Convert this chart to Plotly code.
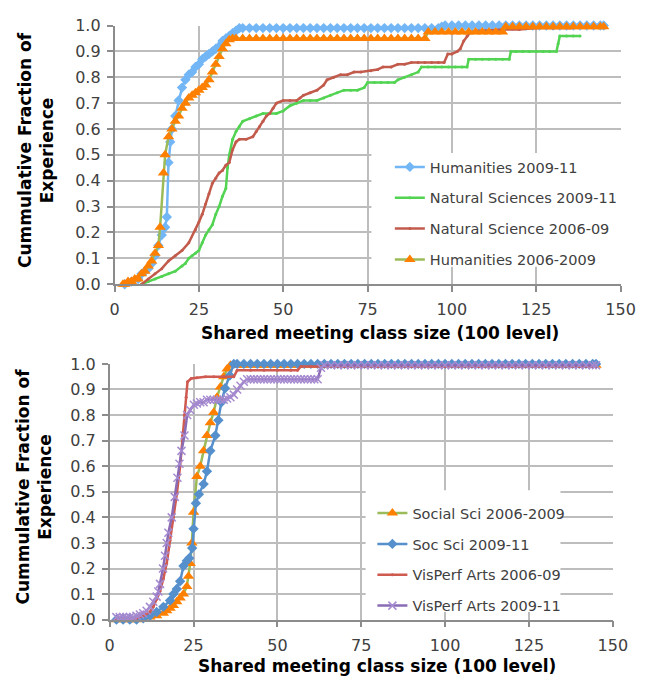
import plotly.graph_objects as go

# ---------------- Top chart data ----------------
HUM09_X = [3, 5, 7, 8, 9, 10, 11, 12, 13, 14, 15, 15.5, 16, 16.5, 17, 18, 19, 20, 21, 22, 23, 24, 25, 26, 27, 28, 29, 30, 31, 32, 33, 34, 35, 36, 37,
           38, 40, 42, 44, 46, 48, 50, 52, 54, 56, 58, 60, 62, 64, 66, 68, 70, 72, 74, 76, 78, 80, 82, 84, 86, 88, 90, 92, 94, 96,
           97,
           98, 100, 102, 104, 106, 108, 110, 112, 114, 116, 118, 120, 122, 124, 126, 128, 130, 132, 134, 136, 138, 140, 142, 144,
           145]
HUM09_Y = [0.0, 0.01, 0.02, 0.04, 0.05, 0.06, 0.08, 0.11, 0.15, 0.19, 0.22, 0.26, 0.47, 0.55, 0.60, 0.65, 0.71, 0.76, 0.79, 0.81, 0.82, 0.84, 0.85, 0.87, 0.88, 0.89, 0.90, 0.91, 0.92, 0.94, 0.95, 0.96, 0.97, 0.98, 0.99,
           0.99, 0.99, 0.99, 0.99, 0.99, 0.99, 0.99, 0.99, 0.99, 0.99, 0.99, 0.99, 0.99, 0.99, 0.99, 0.99, 0.99, 0.99, 0.99, 0.99, 0.99, 0.99, 0.99, 0.99, 0.99, 0.99, 0.99, 0.99, 0.99, 0.99,
           0.995,
           1.0, 1.0, 1.0, 1.0, 1.0, 1.0, 1.0, 1.0, 1.0, 1.0, 1.0, 1.0, 1.0, 1.0, 1.0, 1.0, 1.0, 1.0, 1.0, 1.0, 1.0, 1.0, 1.0, 1.0,
           1.0]

NAT09_X = [8, 10, 12, 14, 16, 18, 20, 21, 22, 23, 24, 25, 26, 27, 28, 29, 30, 31, 32, 33, 33.5, 34, 35, 36, 37, 38, 40, 42, 44, 46,
           48, 50, 52, 54, 56, 58, 60, 62, 64, 66, 68, 70, 72, 74, 75, 77, 79, 81, 83, 84, 86, 88, 90, 91, 93, 95, 97, 99, 101, 103,
           104.5, 105, 107, 109, 111, 113, 115, 117, 117.5, 119, 121, 123, 125, 127, 129, 131, 131.5, 132, 134, 136, 138]
NAT09_Y = [0.0, 0.01, 0.02, 0.03, 0.04, 0.05, 0.07, 0.08, 0.10, 0.11, 0.12, 0.13, 0.16, 0.19, 0.21, 0.23, 0.27, 0.30, 0.34, 0.37, 0.45, 0.50, 0.56, 0.59, 0.61, 0.63, 0.64, 0.65, 0.66, 0.66,
           0.66, 0.67, 0.69, 0.70, 0.71, 0.71, 0.71, 0.72, 0.73, 0.74, 0.75, 0.75, 0.75, 0.76, 0.78, 0.78, 0.78, 0.78, 0.78, 0.79, 0.80, 0.81, 0.82, 0.84, 0.84, 0.84, 0.84, 0.84, 0.84, 0.84,
           0.84, 0.87, 0.87, 0.87, 0.87, 0.87, 0.87, 0.87, 0.90, 0.90, 0.90, 0.90, 0.90, 0.90, 0.90, 0.90, 0.93, 0.96, 0.96, 0.96, 0.96]

NAT06_X = [8, 10, 12, 14, 16, 18, 20, 22, 24, 25, 26, 27, 28, 29, 30, 31, 32, 33, 34, 35, 36, 37, 39, 41, 42, 43, 44, 45, 46, 47,
           48, 50, 52, 54, 55, 56, 58, 60, 62, 63, 65, 67, 69, 71, 73, 76, 78, 79.6, 82, 84, 86, 88, 90, 92, 94, 96, 97.7, 98.8, 100, 101.6,
           102.5, 103.5, 104.5, 105.5, 107, 110, 115, 120, 125, 130, 135, 140, 145]
NAT06_Y = [0.0, 0.02, 0.04, 0.06, 0.09, 0.11, 0.13, 0.16, 0.21, 0.24, 0.27, 0.31, 0.35, 0.39, 0.41, 0.43, 0.44, 0.46, 0.47, 0.52, 0.55, 0.56, 0.56, 0.57, 0.59, 0.61, 0.63, 0.65, 0.66, 0.68,
           0.70, 0.71, 0.71, 0.71, 0.72, 0.73, 0.74, 0.75, 0.77, 0.79, 0.80, 0.81, 0.81, 0.82, 0.82, 0.825, 0.83, 0.84, 0.84, 0.85, 0.85, 0.857, 0.857, 0.857, 0.857, 0.857, 0.857, 0.89, 0.89, 0.90,
           0.91, 0.94, 0.96, 0.975, 0.98, 0.98, 0.985, 0.985, 0.99, 0.99, 0.99, 0.995, 1.0]

HUM06_X = [2.5, 3, 4, 5, 6, 7, 8, 9, 10, 11, 12, 13, 13.5, 14.5, 15, 16, 17, 18, 19, 20, 21, 22, 23, 24, 25, 26, 27, 28, 29, 30, 31, 32, 33, 34, 35,
           36, 38, 40, 42, 44, 46, 48, 50, 52, 54, 56, 58, 60, 62, 64, 66, 68, 70, 72, 74, 76, 78, 80, 82, 84, 86, 88, 90, 92,
           93, 95, 97, 99, 101, 103, 105, 107, 109, 111, 113, 115,
           116, 118, 120, 122, 124, 126, 128, 130, 132, 134, 136, 138, 140, 142, 144,
           145]
HUM06_Y = [0.0, 0.0, 0.01, 0.01, 0.02, 0.02, 0.04, 0.05, 0.07, 0.09, 0.12, 0.15, 0.22, 0.43, 0.50, 0.57, 0.60, 0.63, 0.65, 0.68, 0.70, 0.72, 0.73, 0.74, 0.75, 0.76, 0.77, 0.79, 0.82, 0.85, 0.88, 0.91, 0.93, 0.945, 0.95,
           0.95, 0.95, 0.95, 0.95, 0.95, 0.95, 0.95, 0.95, 0.95, 0.95, 0.95, 0.95, 0.95, 0.95, 0.95, 0.95, 0.95, 0.95, 0.95, 0.95, 0.95, 0.95, 0.95, 0.95, 0.95, 0.95, 0.95, 0.95, 0.95,
           0.975, 0.975, 0.975, 0.975, 0.975, 0.975, 0.975, 0.975, 0.975, 0.975, 0.975, 0.975,
           0.995, 0.995, 0.995, 0.995, 0.995, 0.995, 0.995, 0.995, 0.995, 0.995, 0.995, 0.995, 0.995, 0.995, 0.995,
           0.995]

# ---------------- Bottom chart data ----------------
SOC06_X = [2, 4, 6, 8, 10, 12, 14, 16, 17, 18, 19, 20, 21, 22, 23, 23.5, 24, 24.5, 25, 26, 27, 28, 29, 30, 31, 32, 33, 34, 35, 36,
           38, 40, 42, 44, 46, 48, 50, 52, 54, 56, 58, 60, 62, 64, 66, 68, 70, 72, 74, 76, 78, 80, 82, 84, 86, 88, 90,
           92, 94, 96, 98, 100, 102, 104, 106, 108, 110, 112, 114, 116, 118, 120, 122, 124, 126, 128, 130, 132, 134, 136, 138, 140, 142, 144,
           145]
SOC06_Y = [0.0, 0.0, 0.0, 0.0, 0.005, 0.01, 0.015, 0.025, 0.035, 0.045, 0.055, 0.07, 0.085, 0.10, 0.13, 0.17, 0.22, 0.30, 0.42, 0.56, 0.60, 0.66, 0.72, 0.77, 0.81, 0.87, 0.91, 0.95, 0.98, 0.995,
           0.995, 0.995, 0.995, 0.995, 0.995, 0.995, 0.995, 0.995, 0.995, 0.995, 0.995, 0.995, 0.995, 0.995, 0.995, 0.995, 0.995, 0.995, 0.995, 0.995, 0.995, 0.995, 0.995, 0.995, 0.995, 0.995, 0.995,
           0.995, 0.995, 0.995, 0.995, 0.995, 0.995, 0.995, 0.995, 0.995, 0.995, 0.995, 0.995, 0.995, 0.995, 0.995, 0.995, 0.995, 0.995, 0.995, 0.995, 0.995, 0.995, 0.995, 0.995, 0.995, 0.995, 0.995,
           0.995]

SOC09_X = [2, 4, 6, 8, 10, 12, 14, 16, 18, 19, 20, 21, 22, 23, 23.7, 24.6, 25, 25.7, 26.6, 28, 29, 30, 31.5, 32.4, 33.3, 34.4, 35.8, 37,
           38, 40, 42, 44, 46, 48, 50, 52, 54, 56, 58, 60, 62, 64, 66, 68, 70, 72, 74, 76, 78, 80, 82, 84, 86, 88, 90,
           92, 94, 96, 98, 100, 102, 104, 106, 108, 110, 112, 114, 116, 118, 120, 122, 124, 126, 128, 130, 132, 134, 136, 138, 140, 142, 144,
           145]
SOC09_Y = [0.0, 0.0, 0.0, 0.0, 0.005, 0.015, 0.03, 0.05, 0.075, 0.10, 0.12, 0.15, 0.21, 0.23, 0.24, 0.28, 0.355, 0.455, 0.49, 0.53, 0.58, 0.66, 0.72, 0.78, 0.85, 0.905, 0.955, 1.0,
           1.0, 1.0, 1.0, 1.0, 1.0, 1.0, 1.0, 1.0, 1.0, 1.0, 1.0, 1.0, 1.0, 1.0, 1.0, 1.0, 1.0, 1.0, 1.0, 1.0, 1.0, 1.0, 1.0, 1.0, 1.0, 1.0, 1.0,
           1.0, 1.0, 1.0, 1.0, 1.0, 1.0, 1.0, 1.0, 1.0, 1.0, 1.0, 1.0, 1.0, 1.0, 1.0, 1.0, 1.0, 1.0, 1.0, 1.0, 1.0, 1.0, 1.0, 1.0, 1.0, 1.0, 1.0,
           1.0]

VIS06_X = [2, 4, 6, 8, 10, 12, 13, 14, 15, 16, 17, 18, 19, 20, 21, 21.7, 22.3, 22.8, 23.2, 24.3, 26, 28.6, 31, 34, 37,
           38, 42, 46, 50, 54, 56, 57, 60, 70, 80, 90, 100, 110, 120, 130, 140, 145]
VIS06_Y = [0.0, 0.0, 0.0, 0.005, 0.015, 0.03, 0.05, 0.08, 0.11, 0.16, 0.22, 0.31, 0.40, 0.49, 0.60, 0.72, 0.80, 0.87, 0.93, 0.943, 0.946, 0.95, 0.95, 0.95, 0.95,
           0.975, 0.975, 0.975, 0.975, 0.975, 0.975, 0.99, 0.99, 0.99, 0.99, 0.99, 0.99, 0.99, 0.99, 0.99, 0.99, 0.99]

VIS09_X = [2, 3, 4, 5, 6, 7, 8, 9, 10, 11, 12, 13, 14,
           14.5, 15, 15.9, 16.5, 17, 17.5, 18.5, 19.4, 20.2, 20.8, 21.4, 22.3, 23.1, 24, 25.1,
           26, 27, 28, 29, 30, 31, 32, 33, 34, 35, 36, 37, 38, 39, 40, 41,
           42, 43, 44, 45, 46, 47, 48, 49, 50, 51, 52, 53, 54, 55, 56, 57, 58, 59, 60, 61, 62,
           63,
           64, 66, 68, 70, 72, 74, 76, 78, 80, 82, 84, 86, 88, 90, 92, 94, 96, 98, 100, 102, 104,
           106, 108, 110, 112, 114, 116, 118, 120, 122, 124, 126, 128, 130, 132, 134, 136, 138, 140, 142, 144,
           145]
VIS09_Y = [0.01, 0.01, 0.01, 0.01, 0.01, 0.01, 0.015, 0.02, 0.025, 0.035, 0.05, 0.07, 0.09,
           0.11, 0.14, 0.20, 0.25, 0.30, 0.34, 0.40, 0.48, 0.555, 0.61, 0.66, 0.72, 0.80, 0.82, 0.84,
           0.845, 0.85, 0.85, 0.86, 0.86, 0.86, 0.86, 0.86, 0.86, 0.865, 0.87, 0.88, 0.90, 0.915, 0.93, 0.94,
           0.94, 0.94, 0.94, 0.94, 0.94, 0.94, 0.94, 0.94, 0.94, 0.94, 0.94, 0.94, 0.94, 0.94, 0.94, 0.94, 0.94, 0.94, 0.94, 0.94, 0.94,
           0.985,
           0.995, 0.995, 0.995, 0.995, 0.995, 0.995, 0.995, 0.995, 0.995, 0.995, 0.995, 0.995, 0.995, 0.995, 0.995, 0.995, 0.995, 0.995, 0.995, 0.995, 0.995,
           0.995, 0.995, 0.995, 0.995, 0.995, 0.995, 0.995, 0.995, 0.995, 0.995, 0.995, 0.995, 0.995, 0.995, 0.995, 0.995, 0.995, 0.995, 0.995, 0.995,
           0.995]

for a, b in [(HUM09_X, HUM09_Y), (NAT09_X, NAT09_Y), (NAT06_X, NAT06_Y), (HUM06_X, HUM06_Y),
             (SOC06_X, SOC06_Y), (SOC09_X, SOC09_Y), (VIS06_X, VIS06_Y), (VIS09_X, VIS09_Y)]:
    assert len(a) == len(b), (len(a), len(b))

X_TICKS = [0, 25, 50, 75, 100, 125, 150]
Y_TICKS = [0.0, 0.1, 0.2, 0.3, 0.4, 0.5, 0.6, 0.7, 0.8, 0.9, 1.0]
X_TITLE = "Shared meeting class size (100 level)"
Y_TITLE = "Cummulative Fraction of<br>Experience"

FONT = "DejaVu Sans"
W, H = 653, 688
ORANGE = "#FF8000"
OLIVE = "#9BBB59"

fig = go.Figure()


def add(x, y, name, xa, ya, leg, lcolor, msym, msize, mcolor, mline=0, mlcolor=None):
    fig.add_trace(go.Scatter(
        x=x, y=y, name=name, mode="lines+markers", xaxis=xa, yaxis=ya,
        legend=leg, legendgroup=name, cliponaxis=False,
        line=dict(color=lcolor, width=2.5),
        marker=dict(symbol=msym, size=msize, color=mcolor,
                    line=dict(width=mline, color=mlcolor or mcolor)),
    ))


# top chart
add(HUM09_X, HUM09_Y, "Humanities 2009-11", "x", "y", "legend", "#72B6F6", "diamond", 8, "#72B6F6")
add(NAT09_X, NAT09_Y, "Natural Sciences 2009-11", "x", "y", "legend", "#52D452", "circle", 3, "#52D452")
add(NAT06_X, NAT06_Y, "Natural Science 2006-09", "x", "y", "legend", "#C25B4C", "circle", 3, "#C25B4C")
add(HUM06_X, HUM06_Y, "Humanities 2006-2009", "x", "y", "legend", OLIVE, "triangle-up", 10, ORANGE)
# bottom chart
add(SOC06_X, SOC06_Y, "Social Sci 2006-2009", "x2", "y2", "legend2", OLIVE, "triangle-up", 10, ORANGE)
add(SOC09_X, SOC09_Y, "Soc Sci 2009-11", "x2", "y2", "legend2", "#5590CC", "diamond", 8, "#5590CC")
add(VIS06_X, VIS06_Y, "VisPerf Arts 2006-09", "x2", "y2", "legend2", "#CF5A50", "circle", 3, "#CF5A50")
add(VIS09_X, VIS09_Y, "VisPerf Arts 2009-11", "x2", "y2", "legend2", "#8A6BB5", "x-thin", 8, "#A68BD0", 1.5, "#A68BD0")

tickfont = dict(family=FONT, size=16, color="#404040")
common_x = dict(range=[0, 150], tickvals=X_TICKS, showgrid=True, gridcolor="#BDBDBD", gridwidth=1.5,
                showline=True, linecolor="#8C8C8C", linewidth=1.5, ticks="outside", ticklen=6,
                tickcolor="#8C8C8C", tickwidth=1.5, zeroline=False, tickfont=tickfont,
                ticklabelstandoff=4, fixedrange=True)
common_y = dict(range=[0, 1], tickvals=Y_TICKS, tickformat=".1f", showgrid=True, gridcolor="#BDBDBD",
                gridwidth=1.5, showline=True, linecolor="#8C8C8C", linewidth=1.5, ticks="outside",
                ticklen=6, tickcolor="#8C8C8C", tickwidth=1.5, zeroline=False, tickfont=tickfont,
                ticklabelstandoff=3, fixedrange=True)

legfont = dict(family=FONT, size=14.5, color="#404040")

fig.update_layout(
    width=W, height=H, margin=dict(l=0, r=0, t=0, b=0),
    paper_bgcolor="white", plot_bgcolor="white",
    xaxis=dict(domain=[113 / W, 635 / W], anchor="y", **common_x),
    yaxis=dict(domain=[1 - 283 / H, 1 - 17 / H], anchor="x", **common_y),
    xaxis2=dict(domain=[108 / W, 627 / W], anchor="y2", **common_x),
    yaxis2=dict(domain=[1 - 628 / H, 1 - 365 / H], anchor="x2", **common_y),
    legend=dict(x=397 / W, y=1 - 146 / H, xanchor="left", yanchor="top", bgcolor="rgba(0,0,0,0)",
                borderwidth=0, font=legfont, tracegroupgap=9),
    legend2=dict(x=379 / W, y=1 - 502 / H, xanchor="left", yanchor="top", bgcolor="rgba(0,0,0,0)",
                 borderwidth=0, font=legfont, tracegroupgap=9),
    showlegend=True,
    shapes=[
        dict(type="rect", xref="paper", yref="paper", x0=378 / W, x1=641 / W, y0=1 - 265 / H, y1=1 - 148 / H,
             fillcolor="white", line=dict(width=0), layer="above"),
        dict(type="rect", xref="paper", yref="paper", x0=372 / W, x1=573 / W, y0=1 - 620 / H, y1=1 - 495 / H,
             fillcolor="white", line=dict(width=0), layer="above"),
    ],
    annotations=[
        dict(text="<b>" + X_TITLE + "</b>", xref="paper", yref="paper", x=387 / W, y=1 - 333 / H,
             showarrow=False, font=dict(family=FONT, size=17, color="black"), xanchor="center", yanchor="middle"),
        dict(text="<b>" + X_TITLE + "</b>", xref="paper", yref="paper", x=384 / W, y=0.0,
             showarrow=False, font=dict(family=FONT, size=17, color="black"), xanchor="center", yanchor="bottom"),
        dict(text="<b>" + Y_TITLE + "</b>", xref="paper", yref="paper", x=32 / W, y=1 - 145 / H, textangle=-90,
             showarrow=False, font=dict(family=FONT, size=17, color="black"), xanchor="center", yanchor="middle"),
        dict(text="<b>" + Y_TITLE + "</b>", xref="paper", yref="paper", x=30 / W, y=1 - 491 / H, textangle=-90,
             showarrow=False, font=dict(family=FONT, size=17, color="black"), xanchor="center", yanchor="middle"),
    ],
)

fig.write_html("out.html")
